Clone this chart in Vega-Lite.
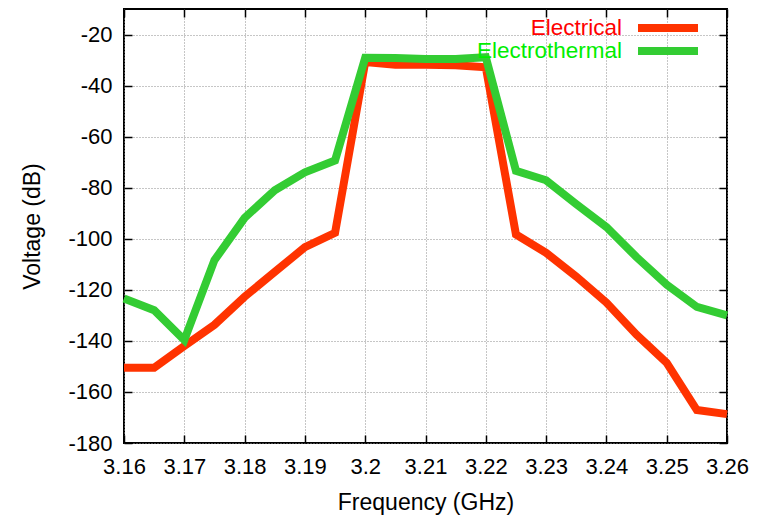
{
  "$schema": "https://vega.github.io/schema/vega-lite/v6.json",
  "autosize": {"type": "none"},
  "width": 603,
  "height": 434,
  "padding": {"left": 124, "top": 9, "right": 32, "bottom": 72},
  "background": "#ffffff",
  "config": {
    "font": "Liberation Sans",
    "view": {"stroke": "#000000", "strokeWidth": 2},
    "axis": {
      "domain": false,
      "grid": true,
      "gridColor": "#8c8c8c",
      "gridDash": [1, 2],
      "gridWidth": 1,
      "ticks": true,
      "tickColor": "#000000",
      "tickWidth": 1.5,
      "tickSize": 8,
      "labelOverlap": false,
      "labelFlush": false,
      "labelFont": "Liberation Sans",
      "labelFontSize": 22,
      "labelColor": "#000000",
      "titleFont": "Liberation Sans",
      "titleFontSize": 23,
      "titleFontWeight": "normal",
      "titleColor": "#000000"
    },
    "legend": {
      "title": null,
      "orient": "none",
      "symbolType": "M-3,0H3",
      "symbolSize": 400,
      "symbolStrokeWidth": 8,
      "labelAlign": "right",
      "labelOffset": -60,
      "labelFontSize": 22.5,
      "labelLimit": 300,
      "padding": 0
    }
  },
  "data": {
    "values": [
      {"f": 3.160, "v": -150.5, "series": "Electrical"},
      {"f": 3.165, "v": -150.5, "series": "Electrical"},
      {"f": 3.170, "v": -142.0, "series": "Electrical"},
      {"f": 3.175, "v": -133.7, "series": "Electrical"},
      {"f": 3.180, "v": -122.7, "series": "Electrical"},
      {"f": 3.185, "v": -113.0, "series": "Electrical"},
      {"f": 3.190, "v": -103.3, "series": "Electrical"},
      {"f": 3.195, "v": -97.7, "series": "Electrical"},
      {"f": 3.200, "v": -30.8, "series": "Electrical"},
      {"f": 3.205, "v": -31.8, "series": "Electrical"},
      {"f": 3.210, "v": -31.8, "series": "Electrical"},
      {"f": 3.215, "v": -32.0, "series": "Electrical"},
      {"f": 3.220, "v": -32.8, "series": "Electrical"},
      {"f": 3.225, "v": -98.3, "series": "Electrical"},
      {"f": 3.230, "v": -105.5, "series": "Electrical"},
      {"f": 3.235, "v": -114.8, "series": "Electrical"},
      {"f": 3.240, "v": -125.0, "series": "Electrical"},
      {"f": 3.245, "v": -137.6, "series": "Electrical"},
      {"f": 3.250, "v": -148.6, "series": "Electrical"},
      {"f": 3.255, "v": -167.1, "series": "Electrical"},
      {"f": 3.260, "v": -168.7, "series": "Electrical"},
      {"f": 3.160, "v": -123.4, "series": "Electrothermal"},
      {"f": 3.165, "v": -128.0, "series": "Electrothermal"},
      {"f": 3.170, "v": -139.7, "series": "Electrothermal"},
      {"f": 3.175, "v": -108.4, "series": "Electrothermal"},
      {"f": 3.180, "v": -91.8, "series": "Electrothermal"},
      {"f": 3.185, "v": -81.0, "series": "Electrothermal"},
      {"f": 3.190, "v": -74.0, "series": "Electrothermal"},
      {"f": 3.195, "v": -69.3, "series": "Electrothermal"},
      {"f": 3.200, "v": -29.1, "series": "Electrothermal"},
      {"f": 3.205, "v": -29.2, "series": "Electrothermal"},
      {"f": 3.210, "v": -29.6, "series": "Electrothermal"},
      {"f": 3.215, "v": -29.6, "series": "Electrothermal"},
      {"f": 3.220, "v": -28.9, "series": "Electrothermal"},
      {"f": 3.225, "v": -73.4, "series": "Electrothermal"},
      {"f": 3.230, "v": -77.1, "series": "Electrothermal"},
      {"f": 3.235, "v": -86.4, "series": "Electrothermal"},
      {"f": 3.240, "v": -95.4, "series": "Electrothermal"},
      {"f": 3.245, "v": -107.2, "series": "Electrothermal"},
      {"f": 3.250, "v": -118.0, "series": "Electrothermal"},
      {"f": 3.255, "v": -126.7, "series": "Electrothermal"},
      {"f": 3.260, "v": -130.0, "series": "Electrothermal"}
    ]
  },
  "layer": [
    {
      "transform": [{"filter": "datum.series === 'Electrical'"}],
      "mark": {"type": "line", "strokeWidth": 8, "strokeJoin": "miter", "strokeCap": "butt"},
      "encoding": {
        "x": {
          "field": "f", "type": "quantitative",
          "scale": {"domain": [3.16, 3.26], "nice": false, "zero": false},
          "axis": {
            "orient": "bottom",
            "offset": -8,
            "title": "Frequency (GHz)",
            "values": [3.16, 3.17, 3.18, 3.19, 3.2, 3.21, 3.22, 3.23, 3.24, 3.25, 3.26],
            "labelExpr": "'' + datum.value",
            "labelPadding": 13,
            "titlePadding": 14
          }
        },
        "y": {
          "field": "v", "type": "quantitative",
          "scale": {"domain": [-180, -10], "nice": false, "zero": false},
          "axis": {
            "orient": "left",
            "offset": -8,
            "title": "Voltage (dB)",
            "values": [-180, -160, -140, -120, -100, -80, -60, -40, -20],
            "labelExpr": "'' + datum.value",
            "labelPadding": 12,
            "titlePadding": 23
          }
        },
        "color": {
          "field": "series", "type": "nominal",
          "scale": {"domain": ["Electrical"], "range": ["#ff3300"]},
          "legend": {"legendX": 530, "legendY": 5, "labelColor": "#ff0000"}
        }
      }
    },
    {
      "transform": [{"filter": "datum.series === 'Electrothermal'"}],
      "mark": {"type": "line", "strokeWidth": 8, "strokeJoin": "miter", "strokeCap": "butt"},
      "encoding": {
        "x": {
          "field": "f", "type": "quantitative",
          "axis": {
            "orient": "top",
            "offset": -8,
            "title": null,
            "labels": false,
            "grid": false,
            "values": [3.16, 3.17, 3.18, 3.19, 3.2, 3.21, 3.22, 3.23, 3.24, 3.25, 3.26]
          }
        },
        "y": {
          "field": "v", "type": "quantitative",
          "axis": {
            "orient": "right",
            "offset": -8,
            "title": null,
            "labels": false,
            "grid": false,
            "values": [-180, -160, -140, -120, -100, -80, -60, -40, -20]
          }
        },
        "color": {
          "field": "series", "type": "nominal",
          "scale": {"domain": ["Electrothermal"], "range": ["#33cc33"]},
          "legend": {"legendX": 530, "legendY": 28, "labelColor": "#00ee00"}
        }
      }
    }
  ],
  "resolve": {
    "axis": {"x": "independent", "y": "independent"},
    "scale": {"color": "independent"},
    "legend": {"color": "independent"}
  }
}
